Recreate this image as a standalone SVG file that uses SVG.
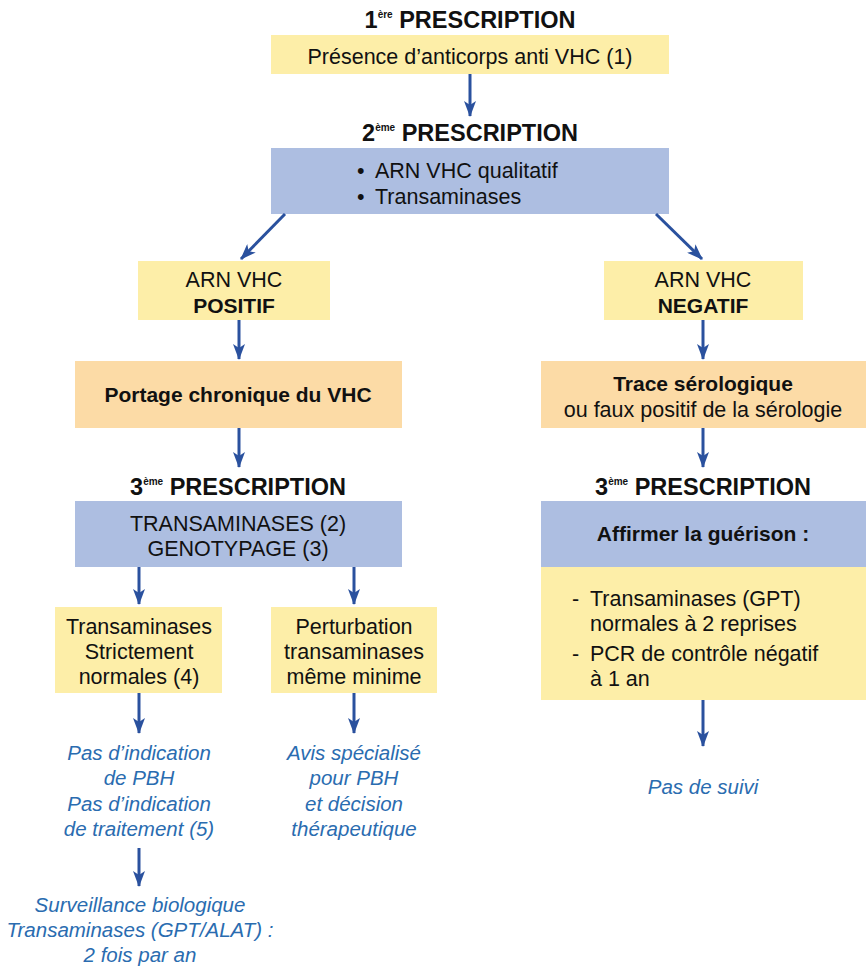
<svg xmlns="http://www.w3.org/2000/svg" width="866" height="966" viewBox="0 0 866 966">
<defs>
<marker id="ah" viewBox="0 0 16 12" markerWidth="16" markerHeight="12" refX="15" refY="6" orient="auto" markerUnits="userSpaceOnUse">
<path d="M0,0 L16,6 L0,12 L4,6 z" fill="#2a519e"/>
</marker>
<style>
.t{font-family:"Liberation Sans",Arial,sans-serif;font-size:21.5px;fill:#111;text-anchor:middle}
.s{text-anchor:start}
.b{font-weight:bold;font-size:21px}
.h{font-family:"Liberation Sans",Arial,sans-serif;font-size:23.5px;font-weight:bold;fill:#111;text-anchor:middle}
.sup{font-size:10px}
.i{font-family:"Liberation Sans",Arial,sans-serif;font-size:20.5px;font-style:italic;fill:#2a6cb0;text-anchor:middle}
.y{fill:#fdeea8}
.bl{fill:#adbee1}
.o{fill:#fcdba6}
.c{stroke:#2a519e;stroke-width:3;fill:none;marker-end:url(#ah)}
</style>
</defs>
<rect width="866" height="966" fill="#fff"/>
<g id="title1"><text class="h" x="470" y="28">1<tspan class="sup" dy="-10">ère</tspan><tspan dy="10"> PRESCRIPTION</tspan></text></g>
<g id="n1"><rect class="y" x="271" y="35" width="398" height="39"/><text class="t" x="470" y="64">Présence d’anticorps anti VHC (1)</text></g>
<g id="title2"><text class="h" x="470" y="141">2<tspan class="sup" dy="-10">ème</tspan><tspan dy="10"> PRESCRIPTION</tspan></text></g>
<g id="n2"><rect class="bl" x="271" y="148" width="398" height="66"/><text class="t s" x="357" y="178">•</text><text class="t s" x="375" y="178">ARN VHC qualitatif</text><text class="t s" x="357" y="204">•</text><text class="t s" x="375" y="204">Transaminases</text></g>
<g id="n3"><rect class="y" x="138" y="261" width="192" height="59"/><text class="t" x="234" y="287">ARN VHC</text><text class="t b" x="234" y="313">POSITIF</text></g>
<g id="n4"><rect class="y" x="604" y="261" width="199" height="59"/><text class="t" x="703" y="287">ARN VHC</text><text class="t b" x="703" y="313">NEGATIF</text></g>
<g id="n5"><rect class="o" x="75" y="361" width="327" height="67"/><text class="t b" x="238" y="402">Portage chronique du VHC</text></g>
<g id="n6"><rect class="o" x="541" y="361" width="325" height="67"/><text class="t b" x="703" y="391">Trace sérologique</text><text class="t" x="703" y="417">ou faux positif de la sérologie</text></g>
<g id="title3l"><text class="h" x="238" y="495">3<tspan class="sup" dy="-10">ème</tspan><tspan dy="10"> PRESCRIPTION</tspan></text></g>
<g id="title3r"><text class="h" x="703" y="495">3<tspan class="sup" dy="-10">ème</tspan><tspan dy="10"> PRESCRIPTION</tspan></text></g>
<g id="n7"><rect class="bl" x="75" y="501" width="327" height="66"/><text class="t" x="238" y="531">TRANSAMINASES (2)</text><text class="t" x="238" y="556">GENOTYPAGE (3)</text></g>
<g id="n8"><rect class="bl" x="541" y="501" width="325" height="66"/><text class="t b" x="703" y="541">Affirmer la guérison :</text></g>
<g id="n9"><rect class="y" x="541" y="567" width="325" height="133"/>
<text class="t s" x="572" y="606">-</text><text class="t s" x="590" y="606">Transaminases (GPT)</text>
<text class="t s" x="590" y="631">normales à 2 reprises</text>
<text class="t s" x="572" y="661">-</text><text class="t s" x="590" y="661">PCR de contrôle négatif</text>
<text class="t s" x="590" y="686">à 1 an</text></g>
<g id="n10"><rect class="y" x="55" y="607" width="167" height="86"/><text class="t" x="139" y="634">Transaminases</text><text class="t" x="139" y="659">Strictement</text><text class="t" x="139" y="684">normales (4)</text></g>
<g id="n11"><rect class="y" x="271" y="607" width="166" height="86"/><text class="t" x="354" y="634">Perturbation</text><text class="t" x="354" y="659">transaminases</text><text class="t" x="354" y="684">même minime</text></g>
<g id="n12"><text class="i" x="139" y="760">Pas d’indication</text><text class="i" x="139" y="785">de PBH</text><text class="i" x="139" y="811">Pas d’indication</text><text class="i" x="139" y="836">de traitement (5)</text></g>
<g id="n13"><text class="i" x="354" y="760">Avis spécialisé</text><text class="i" x="354" y="785">pour PBH</text><text class="i" x="354" y="811">et décision</text><text class="i" x="354" y="836">thérapeutique</text></g>
<g id="n14"><text class="i" x="140" y="912">Surveillance biologique</text><text class="i" x="140" y="937">Transaminases (GPT/ALAT) :</text><text class="i" x="140" y="962">2 fois par an</text></g>
<g id="n15"><text class="i" x="703" y="794">Pas de suivi</text></g>
<g id="connectors">
<line class="c" x1="470" y1="74" x2="470" y2="116"/>
<line class="c" x1="285" y1="214" x2="241" y2="259"/>
<line class="c" x1="656" y1="214" x2="702" y2="259"/>
<line class="c" x1="239" y1="320" x2="239" y2="359"/>
<line class="c" x1="703" y1="320" x2="703" y2="359"/>
<line class="c" x1="239" y1="428" x2="239" y2="467"/>
<line class="c" x1="703" y1="428" x2="703" y2="467"/>
<line class="c" x1="139" y1="567" x2="139" y2="604"/>
<line class="c" x1="354" y1="567" x2="354" y2="604"/>
<line class="c" x1="139" y1="693" x2="139" y2="733"/>
<line class="c" x1="354" y1="693" x2="354" y2="733"/>
<line class="c" x1="139" y1="848" x2="139" y2="886"/>
<line class="c" x1="703" y1="700" x2="703" y2="746"/>
</g>
</svg>
